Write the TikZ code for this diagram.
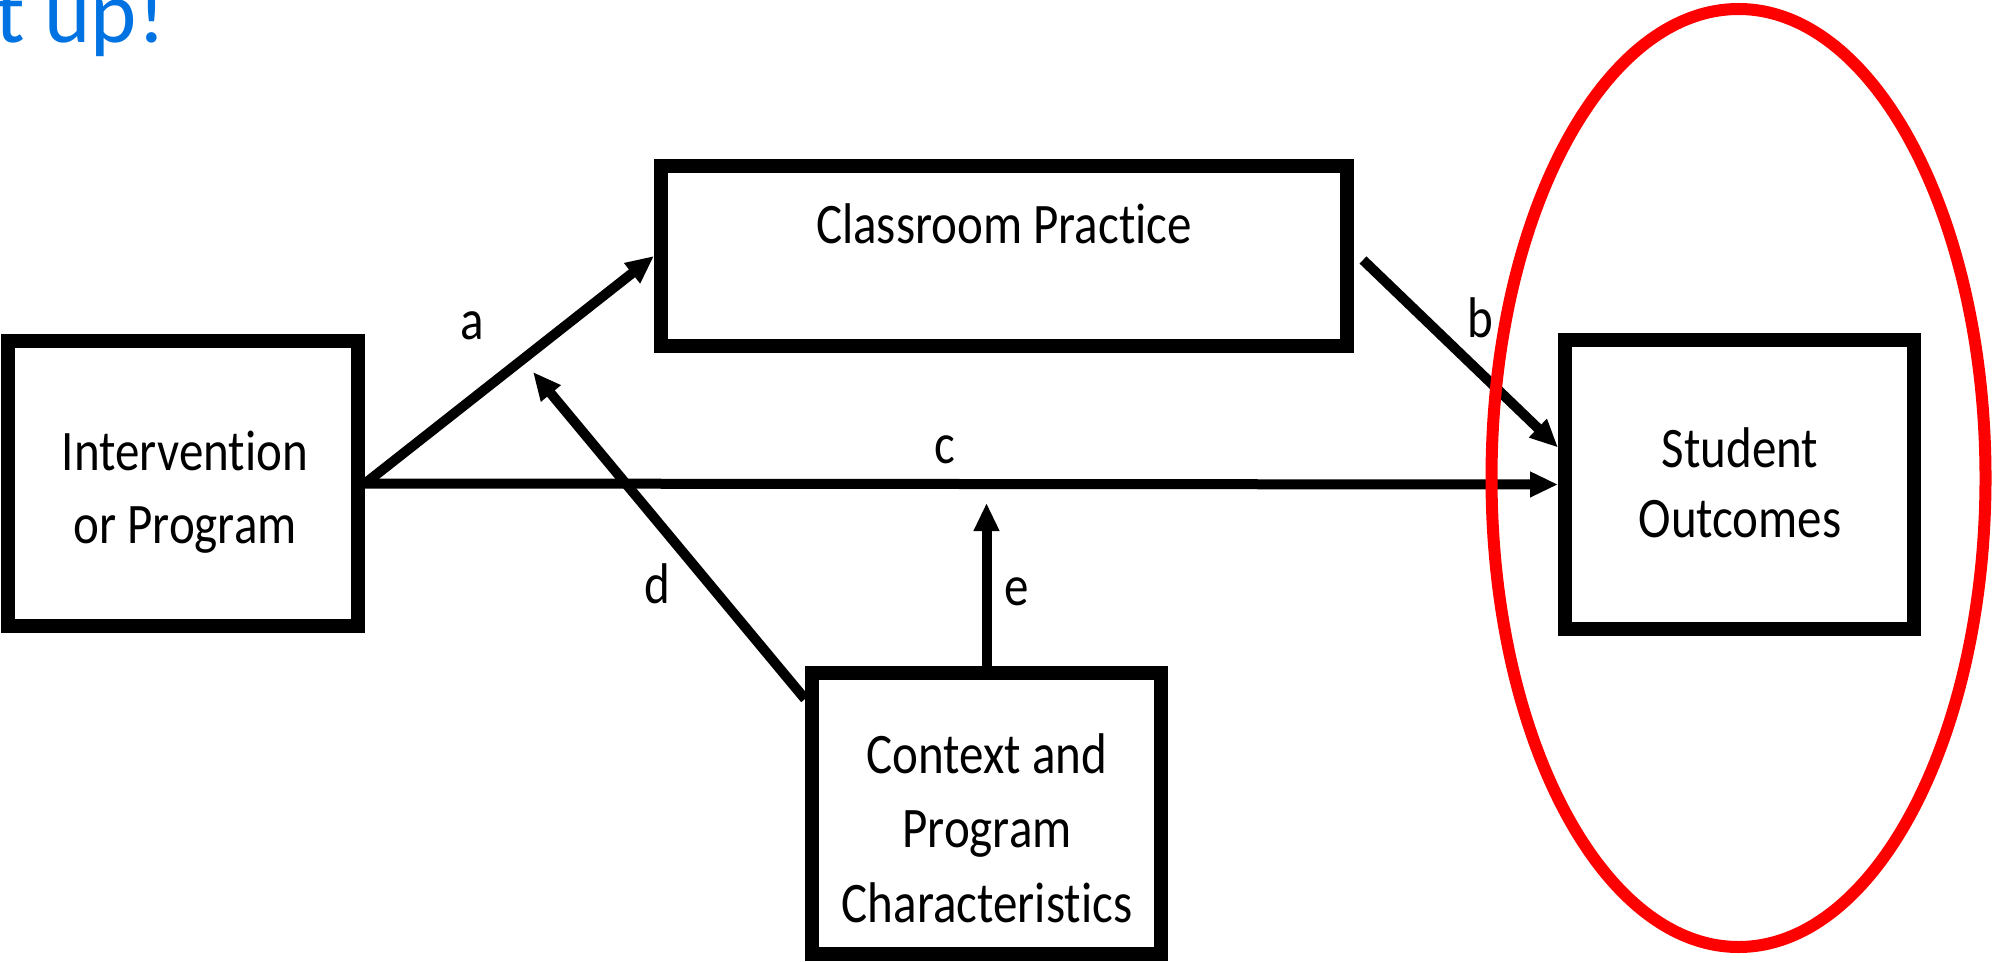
\documentclass[tikz,border=0pt]{standalone}
\usepackage{graphicx}
\usepackage{fontspec}
\setmainfont{Carlito}[RawFeature={-liga;-clig}]
\usetikzlibrary{arrows.meta,calc}
\definecolor{titleblue}{RGB}{0,114,226}
\definecolor{ringred}{RGB}{255,0,0}
\newcommand\stretchy[1]{\scalebox{1}[1.17]{#1}}
\begin{document}
\begin{tikzpicture}[x=0.5pt,y=-0.5pt,
  box/.style={draw=black, line width=7pt, inner sep=0pt, outer sep=3.5pt},
  txt/.style={font=\fontsize{24.5pt}{29pt}\selectfont, anchor=base, inner sep=0pt},
  arr/.style={draw=black, line width=5pt, -{Triangle[length=14pt,width=12pt]}},
  ring/.style={draw=ringred, line width=6pt}]
\useasboundingbox (0,0) rectangle (1995,962);

% title fragment
\node[anchor=base west, font=\fontsize{44pt}{52pt}\selectfont, text=titleblue, inner sep=0pt] (title) at (-5,43) {t up!};

% boxes
\node[box, minimum width=175pt, minimum height=142.5pt] (iv) at (183,483.5) {};
\node[box, minimum width=343pt, minimum height=90pt] (cp) at (1004,256) {};
\node[box, minimum width=174.5pt, minimum height=144.5pt] (so) at (1739.5,484.5) {};
\node[box, minimum width=174.5pt, minimum height=140.5pt] (ctx) at (986.5,813.5) {};

% box texts
\node[txt] (iv1) at (185,470) {\stretchy{Intervention}};
\node[txt] (iv2) at (185,543) {\stretchy{or Program}};
\node[txt] (cp1) at (1004,244) {\stretchy{Classroom Practice}};
\node[txt] (so1) at (1740,467) {\stretchy{Student}};
\node[txt] (so2) at (1740,537) {\stretchy{Outcomes}};
\node[txt] (cx1) at (987,773) {\stretchy{Context and}};
\node[txt] (cx2) at (987,847) {\stretchy{Program}};
\node[txt] (cx3) at (987,922) {\stretchy{Characteristics}};

% free arrow ends
\coordinate (dtip) at (533,372);
\coordinate (etip) at (986.5,503);

% connectors
\draw[arr] (iv.east) -- (cp.west);
\draw[arr] (iv.east) -- (so.west);
\draw[arr] ($(cp.east)+(9,4)$) -- ($(so.west)+(0,-37)$);
\draw[arr] ($(ctx.north west)+(0,33)$) -- (dtip);
\draw[arr] (ctx.north) -- (etip);

% connector labels
\node[txt] (la) at (472,340) {\stretchy{a}};
\node[txt] (lb) at (1480,337) {\stretchy{b}};
\node[txt] (lc) at (945,463) {\stretchy{c}};
\node[txt] (ld) at (657,603) {\stretchy{d}};
\node[txt] (le) at (1017,605) {\stretchy{e}};

% red highlight ring
\draw[ring] (1738.5,478) ellipse [x radius=123.5pt, y radius=234.5pt];
\end{tikzpicture}
\end{document}
